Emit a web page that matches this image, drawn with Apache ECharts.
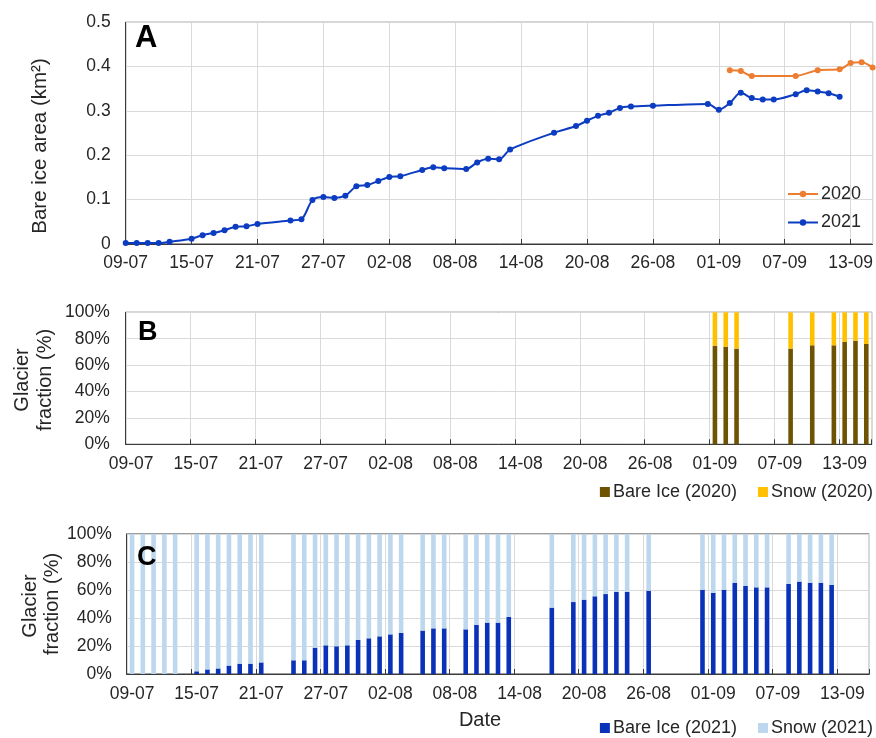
<!DOCTYPE html>
<html><head><meta charset="utf-8">
<script src="https://cdn.jsdelivr.net/npm/echarts@6/dist/echarts.min.js"></script>
<style>html,body{margin:0;padding:0;background:#fff}#c{width:876px;height:738px}</style>
</head><body><div id="c"></div>
<script>
// ---------- data ----------
const startDate = '09-07';
const endDate = '15-09';
const tickLabels = ['09-07','15-07','21-07','27-07','02-08','08-08','14-08','20-08','26-08','01-09','07-09','13-09'];

const dates2021 = ['09-07','10-07','11-07','12-07','13-07','15-07','16-07','17-07','18-07','19-07','20-07','21-07',
  '24-07','25-07','26-07','27-07','28-07','29-07','30-07','31-07','01-08','02-08','03-08','05-08','06-08','07-08',
  '09-08','10-08','11-08','12-08','13-08','17-08','19-08','20-08','21-08','22-08','23-08','24-08','26-08',
  '31-08','01-09','02-09','03-09','04-09','05-09','06-09','08-09','09-09','10-09','11-09','12-09'];
const area2021 = [0.002,0.002,0.002,0.002,0.005,0.012,0.020,0.025,0.031,0.039,0.040,0.045,
  0.053,0.056,0.099,0.106,0.104,0.109,0.130,0.133,0.142,0.151,0.153,0.167,0.173,0.171,
  0.169,0.184,0.192,0.191,0.213,0.251,0.266,0.278,0.289,0.296,0.307,0.310,0.312,
  0.316,0.303,0.318,0.341,0.329,0.326,0.326,0.338,0.347,0.344,0.340,0.332];

const dates2020 = ['02-09','03-09','04-09','08-09','10-09','12-09','13-09','14-09','15-09'];
const area2020 = [0.392,0.390,0.379,0.379,0.392,0.394,0.408,0.410,0.398];

const barDates2020 = ['01-09','02-09','03-09','08-09','10-09','12-09','13-09','14-09','15-09'];
const bareIce2020 = [74.7,74.0,72.5,72.5,75.0,75.0,77.5,78.5,76.0];
const snow2020    = [25.3,26.0,27.5,27.5,25.0,25.0,22.5,21.5,24.0];

const bareIce2021 = [0,0,0,0,0,1.9,3.3,4.0,6.0,7.4,7.4,8.3,
  9.8,9.8,18.8,20.5,19.8,20.5,24.3,25.5,26.9,28.3,29.3,31.0,32.6,32.6,
  31.9,35.0,36.7,36.7,40.7,47.4,51.4,53.1,55.5,57.1,58.6,58.6,59.5,
  60.2,57.9,60.2,65.2,62.9,61.9,61.9,64.3,66.0,65.2,65.2,63.6];
const snow2021 = [100,100,100,100,100,98.1,96.7,96.0,94.0,92.6,92.6,91.7,
  90.2,90.2,81.2,79.5,80.2,79.5,75.7,74.5,73.1,71.7,70.7,69.0,67.4,67.4,
  68.1,65.0,63.3,63.3,59.3,52.6,48.6,46.9,44.5,42.9,41.4,41.4,40.5,
  39.8,42.1,39.8,34.8,37.1,38.1,38.1,35.7,34.0,34.8,34.8,36.4];

// ---------- helpers ----------
const DAY = 86400000;
function toUTC(s){ const p = s.split('-').map(Number); return Date.UTC(2021, p[1]-1, p[0]); }
const base = toUTC(startDate);
function dayIndex(s){ return Math.round((toUTC(s) - base) / DAY); }
function pad(n){ return (n < 10 ? '0' : '') + n; }
function dayName(i){ const t = new Date(base + i*DAY); return pad(t.getUTCDate()) + '-' + pad(t.getUTCMonth()+1); }
const nDays = dayIndex(endDate) + 1;
const categories = [];
for (let i = 0; i < nDays; i++) categories.push(dayName(i));
function toBars(dates, vals){
  const arr = new Array(nDays).fill(null);
  dates.forEach((d, i) => { arr[dayIndex(d)] = vals[i]; });
  return arr;
}
const FONT = "'Liberation Sans', Arial, sans-serif";
const TXT = '#262626';
const GRIDC = '#d9d9d9';
const FRAME = '#3a3a3a';
const lbl = {fontFamily: FONT, fontSize: 17.5, color: TXT};

const chart = echarts.init(document.getElementById('c'), null, {renderer: 'canvas'});

const catAxis = (gi) => ({
  type: 'category', gridIndex: gi, data: categories, boundaryGap: true,
  axisLine: {lineStyle: {color: FRAME, width: 1}},
  axisTick: {show: true, inside: true, interval: 5, length: 5, lineStyle: {color: FRAME}},
  axisLabel: Object.assign({interval: 5, margin: 11}, lbl),
  splitLine: {show: true, interval: 5, lineStyle: {color: GRIDC, width: 1}}
});
const pctAxis = (gi, margin) => ({
  type: 'value', gridIndex: gi, min: 0, max: 100, interval: 20,
  axisLine: {show: true, lineStyle: {color: FRAME}},
  axisTick: {show: false},
  axisLabel: Object.assign({formatter: '{value}%', margin: margin}, lbl),
  splitLine: {show: true, lineStyle: {color: GRIDC, width: 1}}
});
const legText = {fontFamily: FONT, fontSize: 18, color: TXT, padding: [0,0,0,-2]};

const option = {
  backgroundColor: '#fff',
  animation: false,
  textStyle: {fontFamily: FONT},
  grid: [
    {left: 125.7, right: 3.3, top: 22.3, bottom: 494, show: true, borderColor: FRAME, borderWidth: 1},
    {left: 125.7, right: 4.3, top: 312.3, height: 132, show: true, borderColor: FRAME, borderWidth: 1},
    {left: 126.7, right: 6.7, top: 534, height: 140, show: true, borderColor: FRAME, borderWidth: 1}
  ],
  xAxis: [
    {
      type: 'value', gridIndex: 0, min: 0, max: nDays - 1, interval: 6,
      axisLine: {lineStyle: {color: FRAME}},
      axisTick: {show: true, inside: true, length: 5, lineStyle: {color: FRAME}},
      axisLabel: Object.assign({margin: 10, showMaxLabel: false,
        formatter: v => (v % 6 === 0 ? (tickLabels[v/6] || '') : '')}, lbl),
      splitLine: {show: true, lineStyle: {color: GRIDC, width: 1}}
    },
    catAxis(1),
    catAxis(2)
  ],
  yAxis: [
    {
      type: 'value', gridIndex: 0, min: 0, max: 0.5, interval: 0.1,
      axisLine: {show: true, lineStyle: {color: FRAME}},
      axisTick: {show: false},
      axisLabel: Object.assign({margin: 15}, lbl),
      splitLine: {show: true, lineStyle: {color: GRIDC, width: 1}}
    },
    pctAxis(1, 16),
    pctAxis(2, 15)
  ],
  legend: [
    {
      data: ['2020', '2021'], orient: 'vertical', left: 787, top: 185, padding: 0,
      itemWidth: 30, itemHeight: 8, itemGap: 10.5, textStyle: legText
    },
    {
      data: ['Bare Ice (2020)', 'Snow (2020)'], orient: 'horizontal', right: 3, top: 483, padding: 0,
      icon: 'rect', itemWidth: 10, itemHeight: 10, itemGap: 21, textStyle: legText
    },
    {
      data: ['Bare Ice (2021)', 'Snow (2021)'], orient: 'horizontal', right: 3, top: 719, padding: 0,
      icon: 'rect', itemWidth: 10, itemHeight: 10, itemGap: 21, textStyle: legText
    }
  ],
  series: [
    {
      name: '2020', type: 'line', xAxisIndex: 0, yAxisIndex: 0,
      data: dates2020.map((d, i) => [dayIndex(d), area2020[i]]),
      smooth: 0.3, symbol: 'circle', symbolSize: 6, clip: false,
      lineStyle: {color: '#ED7D31', width: 2}, itemStyle: {color: '#ED7D31'}
    },
    {
      name: '2021', type: 'line', xAxisIndex: 0, yAxisIndex: 0,
      data: dates2021.map((d, i) => [dayIndex(d), area2021[i]]),
      smooth: 0.3, symbol: 'circle', symbolSize: 6, clip: false,
      lineStyle: {color: '#0B3CC1', width: 2}, itemStyle: {color: '#0B3CC1'}
    },
    {
      name: 'Bare Ice (2020)', type: 'bar', xAxisIndex: 1, yAxisIndex: 1, stack: 's2020',
      barWidth: 4.6, data: toBars(barDates2020, bareIce2020), itemStyle: {color: '#6E5304'}
    },
    {
      name: 'Snow (2020)', type: 'bar', xAxisIndex: 1, yAxisIndex: 1, stack: 's2020',
      barWidth: 4.6, data: toBars(barDates2020, snow2020), itemStyle: {color: '#FFC000'}
    },
    {
      name: 'Bare Ice (2021)', type: 'bar', xAxisIndex: 2, yAxisIndex: 2, stack: 's2021',
      barWidth: 4.6, data: toBars(dates2021, bareIce2021), itemStyle: {color: '#0A32B8'}
    },
    {
      name: 'Snow (2021)', type: 'bar', xAxisIndex: 2, yAxisIndex: 2, stack: 's2021',
      barWidth: 4.6, data: toBars(dates2021, snow2021), itemStyle: {color: '#BDD7EE'}
    }
  ],
  graphic: [
    {type: 'text', z: 100, left: 135, top: 23, style: {text: 'A', font: "bold 31px " + FONT, fill: '#000'}},
    {type: 'text', z: 100, left: 138, top: 319, style: {text: 'B', font: "bold 27px " + FONT, fill: '#000'}},
    {type: 'text', z: 100, left: 137, top: 544, style: {text: 'C', font: "bold 27px " + FONT, fill: '#000'}},
    {type: 'text', z: 100, x: 40, y: 146, rotation: Math.PI/2,
      style: {text: 'Bare ice area (km²)', font: "20.5px " + FONT, fill: TXT, textAlign: 'center', textVerticalAlign: 'middle'}},
    {type: 'text', z: 100, x: 22, y: 380, rotation: Math.PI/2,
      style: {text: 'Glacier', font: "20px " + FONT, fill: TXT, textAlign: 'center', textVerticalAlign: 'middle'}},
    {type: 'text', z: 100, x: 45, y: 380, rotation: Math.PI/2,
      style: {text: 'fraction (%)', font: "20px " + FONT, fill: TXT, textAlign: 'center', textVerticalAlign: 'middle'}},
    {type: 'text', z: 100, x: 30, y: 606, rotation: Math.PI/2,
      style: {text: 'Glacier', font: "20px " + FONT, fill: TXT, textAlign: 'center', textVerticalAlign: 'middle'}},
    {type: 'text', z: 100, x: 52.5, y: 604, rotation: Math.PI/2,
      style: {text: 'fraction (%)', font: "20px " + FONT, fill: TXT, textAlign: 'center', textVerticalAlign: 'middle'}},
    {type: 'text', z: 100, x: 480, y: 720,
      style: {text: 'Date', font: "20px " + FONT, fill: TXT, textAlign: 'center', textVerticalAlign: 'middle'}}
  ]
};
chart.setOption(option);
</script>
</body></html>
